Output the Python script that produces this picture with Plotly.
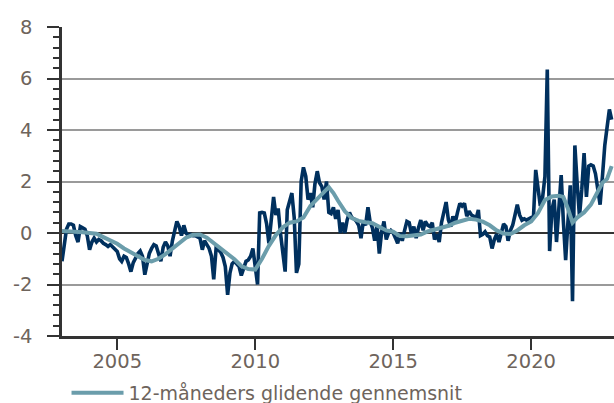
import pandas as pd
import plotly.graph_objects as go

# Monthly values, Jan 2003 - Dec 2022
start_month = "2003-01-01"
monthly = [
    -1.1, -0.3, 0.15, 0.35, 0.35, 0.3, -0.1, -0.35, 0.25, 0.2, 0.15, -0.1,          # 2003
    -0.65, -0.35, -0.2, -0.35, -0.25, -0.3, -0.4, -0.45, -0.52, -0.45, -0.55, -0.65,  # 2004
    -0.72, -1.0, -1.1, -0.9, -0.95, -1.2, -1.5, -1.15, -0.95, -0.8, -0.7, -0.9,       # 2005
    -1.62, -1.2, -0.8, -0.6, -0.45, -0.5, -0.85, -1.1, -0.55, -0.35, -0.5, -0.9,      # 2006
    -0.3, 0.1, 0.45, 0.25, -0.1, 0.3, 0.0, -0.1, -0.05, -0.1, -0.1, -0.15,           # 2007
    -0.2, -0.65, -0.3, -0.45, -0.6, -0.9, -1.8, -0.6, -0.65, -0.75, -0.95, -1.3,      # 2008
    -2.4, -1.55, -1.2, -1.1, -1.2, -1.3, -1.65, -1.35, -1.1, -1.05, -0.9, -0.6,       # 2009
    -1.3, -2.0, 0.78, 0.8, 0.78, 0.35, -0.4, 0.5, 1.4, 0.7, 0.95, 0.0,                # 2010
    -0.85, -1.5, 0.9, 1.2, 1.55, 0.6, -1.55, -1.2, 2.0, 2.55, 2.2, 1.3,               # 2011
    1.55, 1.0, 1.9, 2.4, 1.95, 1.8, 1.3, 2.0, 0.8, 0.75, 1.0, 0.55,                   # 2012
    0.9, 0.0, 0.4, 0.0, 0.5, 0.8, 0.6, 0.55, 0.45, 0.3, -0.2, 0.45,                   # 2013
    0.3, 1.0, 0.45, 0.2, -0.3, 0.3, -0.8, 0.05, 0.45, -0.25, 0.0, 0.1,                # 2014
    0.0, -0.2, -0.4, 0.0, -0.3, 0.1, 0.45, 0.4, -0.05, 0.25, -0.2, 0.2,               # 2015
    0.5, 0.1, 0.45, 0.3, 0.25, 0.4, -0.25, -0.05, -0.35, 0.4, 0.8, 1.2,               # 2016
    0.5, 0.25, 0.65, 0.4, 0.8, 1.15, 1.05, 1.15, 0.65, 0.85, 0.7, 0.65,               # 2017
    0.55, 0.9, -0.1, -0.05, 0.05, -0.1, -0.15, -0.6, -0.25, -0.05, -0.35, 0.0,        # 2018
    0.35, 0.25, -0.3, 0.1, 0.3, 0.7, 1.1, 0.7, 0.5, 0.55, 0.5, 0.55,                  # 2019
    0.6, 0.65, 2.45, 1.65, 1.05, 1.4, 2.2, 6.35, -0.7, 0.9, 1.3, -0.35,               # 2020
    0.9, 2.25, 0.5, -1.05, 0.4, 1.85, -2.65, 3.4, 1.9, 0.65, 1.7, 3.1,                # 2021
    1.4, 2.6, 2.65, 2.6, 2.3, 1.6, 1.1, 2.2, 3.4, 4.1, 4.8, 4.4,                      # 2022
]

# 12-month moving average at selected months
ma_month_index = [0, 3, 6, 9, 12, 15, 18, 21, 24, 27, 30, 33, 36, 39, 42, 45, 48, 51, 54, 57,
                  60, 63, 66, 69, 72, 75, 78, 81, 84, 87, 90, 93, 96, 99, 102, 105, 108, 111,
                  114, 116, 118, 120, 123, 126, 129, 132, 135, 138, 141, 144, 147, 150, 153,
                  156, 159, 162, 165, 168, 171, 174, 177, 180, 183, 186, 189, 192, 195, 198,
                  201, 204, 207, 210, 213, 216, 218, 220, 222, 224, 227, 230, 233, 235, 237, 239]
ma_values = [0.08, 0.07, 0.05, 0.03, 0.0, -0.03, -0.16, -0.28, -0.42, -0.6, -0.75, -0.92,
             -1.05, -1.1, -1.0, -0.82, -0.62, -0.42, -0.18, -0.07, -0.06, -0.18, -0.38, -0.6,
             -0.8, -1.02, -1.28, -1.4, -1.42, -1.0, -0.5, -0.08, 0.22, 0.4, 0.45, 0.6, 1.05,
             1.35, 1.6, 1.78, 1.55, 1.25, 0.85, 0.58, 0.47, 0.42, 0.38, 0.24, 0.1, 0.05,
             -0.12, -0.13, -0.11, -0.06, 0.06, 0.13, 0.18, 0.28, 0.4, 0.47, 0.55, 0.52, 0.44,
             0.3, 0.1, -0.02, -0.04, 0.1, 0.3, 0.45, 0.78, 1.28, 1.42, 1.45, 1.4, 0.95, 0.4,
             0.6, 0.8, 1.1, 1.6, 1.95, 2.1, 2.6]

y_ticks = [-4, -2, 0, 2, 4, 6, 8]
y_tick_labels = ["-4", "-2", "0", "2", "4", "6", "8"]
x_ticks = ["2005-01-01", "2010-01-01", "2015-01-01", "2020-01-01"]
x_tick_labels = ["2005", "2010", "2015", "2020"]
legend_label = "12-måneders glidende gennemsnit"

months = pd.date_range(start_month, periods=len(monthly), freq="MS")
ma_dates = [months[i] for i in ma_month_index]

DARK = "#00305E"
LIGHT = "#6B9DAB"
TXT = "#6E645C"
AX = "#333333"
FONT = "DejaVu Sans"

fig = go.Figure()
fig.add_trace(go.Scatter(x=months, y=monthly, mode="lines", name="Månedlig",
                         line=dict(color=DARK, width=3.6), showlegend=False))
fig.add_trace(go.Scatter(x=ma_dates, y=ma_values, mode="lines", name=legend_label,
                         line=dict(color=LIGHT, width=4), showlegend=True))

fig.update_layout(
    width=614, height=403,
    margin=dict(l=62, r=0, t=27.3, b=66.7, autoexpand=False),
    paper_bgcolor="white", plot_bgcolor="white",
    font=dict(family=FONT, size=19.5, color=TXT),
    showlegend=True,
    legend=dict(x=0.0082, y=-0.123, xanchor="left", yanchor="top",
                orientation="h", itemwidth=52, bgcolor="rgba(0,0,0,0)",
                font=dict(family=FONT, size=19, color=TXT)),
)
fig.update_xaxes(
    type="date", range=["2003-01-01", "2023-01-01"],
    tickmode="array", tickvals=x_ticks, ticktext=x_tick_labels,
    showgrid=False, showline=True, linecolor=AX, linewidth=2.5,
    ticks="outside", ticklen=11, tickwidth=2, tickcolor=AX,
    ticklabelstandoff=-5,
    tickfont=dict(family=FONT, size=19.5, color=TXT),
    zeroline=False, automargin=False,
)
fig.update_yaxes(
    range=[-4, 8], tickmode="array", tickvals=y_ticks, ticktext=y_tick_labels,
    showgrid=True, gridcolor="#9A9A9A", gridwidth=2,
    zeroline=True, zerolinecolor=AX, zerolinewidth=2,
    showline=True, linecolor=AX, linewidth=2.5,
    ticks="outside", ticklen=12, tickwidth=2, tickcolor=AX,
    ticklabelstandoff=11, automargin=False,
    minor=dict(dtick=0.4, tick0=0, ticks="outside", ticklen=6, tickwidth=2,
               tickcolor=AX, showgrid=False),
    tickfont=dict(family=FONT, size=19.5, color=TXT),
)

# remove the browser's default 8px body margin so the 614x403 figure fills the window exactly
fig.write_html("out.html", config={"displayModeBar": False},
               post_script="document.body.style.margin='0';")
